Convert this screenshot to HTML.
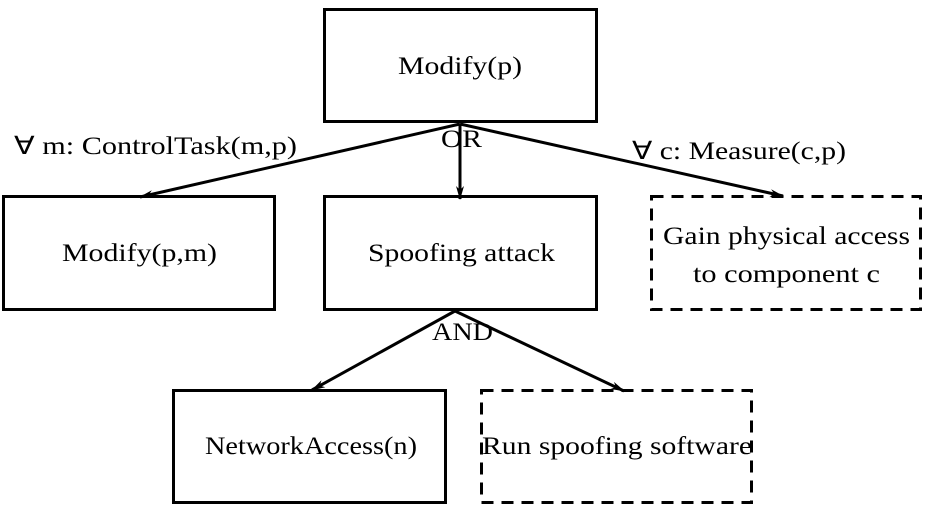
<!DOCTYPE html>
<html><head><meta charset="utf-8"><style>
body{margin:0;background:#fff;width:939px;height:514px;overflow:hidden}
svg text{font-family:"Liberation Serif",serif;font-size:25px;fill:#000}
</style></head><body>
<svg width="939" height="514" viewBox="0 0 939 514" xmlns="http://www.w3.org/2000/svg">
<defs><marker id="a" markerWidth="14" markerHeight="10" refX="13" refY="5" orient="auto" markerUnits="userSpaceOnUse"><path d="M0,1 L14,5 L0,9 L4,5 Z" fill="#000"/></marker></defs>
<g fill="none" stroke="#000" stroke-width="3">
<rect x="324.5" y="9.5" width="272" height="112"/>
<rect x="3.5" y="196.5" width="271" height="113"/>
<rect x="324.5" y="196.5" width="272" height="113"/>
<rect x="651.5" y="196.5" width="269" height="113" stroke-dasharray="12,8"/>
<rect x="173.5" y="390.5" width="272" height="112"/>
<rect x="481.5" y="390.5" width="270" height="112" stroke-dasharray="12,8"/>
<line x1="460" y1="124" x2="140" y2="197" marker-end="url(#a)"/>
<line x1="460" y1="124" x2="460" y2="199" marker-end="url(#a)"/>
<line x1="460" y1="124" x2="783" y2="196" marker-end="url(#a)"/>
<line x1="455" y1="311" x2="312" y2="390" marker-end="url(#a)"/>
<line x1="455" y1="311" x2="624" y2="391" marker-end="url(#a)"/>
</g>
<text x="398" y="74" textLength="124" lengthAdjust="spacingAndGlyphs">Modify(p)</text>
<text x="62" y="261" textLength="155" lengthAdjust="spacingAndGlyphs">Modify(p,m)</text>
<text x="368" y="261" textLength="187" lengthAdjust="spacingAndGlyphs">Spoofing attack</text>
<text x="663" y="244" textLength="247" lengthAdjust="spacingAndGlyphs">Gain physical access</text>
<text x="693" y="282" textLength="187" lengthAdjust="spacingAndGlyphs">to component c</text>
<text x="205" y="454" textLength="212" lengthAdjust="spacingAndGlyphs">NetworkAccess(n)</text>
<text x="482" y="454" textLength="270" lengthAdjust="spacingAndGlyphs">Run spoofing software</text>
<text x="441" y="147" textLength="41" lengthAdjust="spacingAndGlyphs">OR</text>
<text x="432" y="340" textLength="61" lengthAdjust="spacingAndGlyphs">AND</text>
<text x="14" y="154" textLength="283" lengthAdjust="spacingAndGlyphs">∀ m: ControlTask(m,p)</text>
<text x="632" y="159" textLength="214" lengthAdjust="spacingAndGlyphs">∀ c: Measure(c,p)</text>
</svg>
</body></html>
